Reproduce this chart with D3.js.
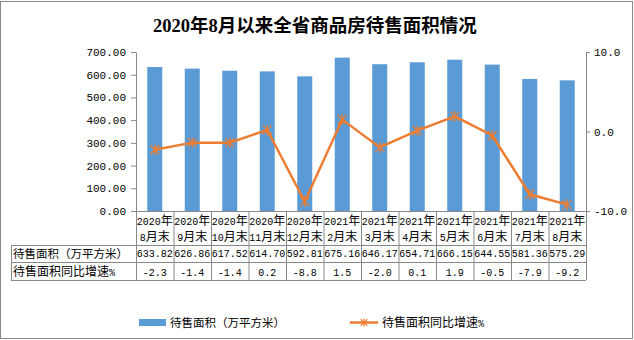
<!DOCTYPE html>
<html><head><meta charset="utf-8">
<script src="https://cdn.jsdelivr.net/npm/d3@7"></script>
<style>body{margin:0;background:#fff}</style></head>
<body><svg id="c" width="634" height="340"></svg>
<script>
const title = "2020年8月以来全省商品房待售面积情况";
const years = ["2020年","2020年","2020年","2020年","2020年","2021年","2021年","2021年","2021年","2021年","2021年","2021年"];
const months = ["8月末","9月末","10月末","11月末","12月末","2月末","3月末","4月末","5月末","6月末","7月末","8月末"];
const area = [633.82,626.86,617.52,614.70,592.81,675.16,646.17,654.71,666.15,644.55,581.36,575.29];
const growth = [-2.3,-1.4,-1.4,0.2,-8.8,1.5,-2.0,0.1,1.9,-0.5,-7.9,-9.2];
const leftTicks = [0,100,200,300,400,500,600,700];
const rightTicks = [-10,0,10];
const seriesNames = ["待售面积（万平方米）","待售面积同比增速%"];

const barColor = "#5B9BD5", lineColor = "#ED7D31", gridColor = "#898989";
const svg = d3.select("#c");
svg.append("rect").attr("x",0.5).attr("y",1.5).attr("width",632).attr("height",337)
  .attr("fill","#fff").attr("stroke",gridColor);

const MONO = "Liberation Mono", CJK = "Noto Sans CJK SC";
function rich(sel, str, asciiSize, cjkSize){
  const runs = str.match(/[\x00-\x7F]+|[^\x00-\x7F]+/g) || [];
  runs.forEach(r=>{
    const ascii = /^[\x00-\x7F]+$/.test(r);
    sel.append("tspan").attr("font-family", ascii?MONO:CJK)
      .attr("font-size", ascii?asciiSize:cjkSize).text(r);
  });
}

svg.append("text").attr("x",315).attr("y",32).attr("text-anchor","middle")
  .attr("font-family","Liberation Serif, Noto Sans CJK SC").attr("font-weight","bold")
  .attr("font-size",18.5).attr("fill","#000").text(title);

const X0=136, X1=586, Y0=211, Y1=52;
const idx = d3.range(area.length);
const x = d3.scaleBand().domain(idx).range([X0,X1]);
const xb = d3.scaleLinear().domain([0,area.length]).range([X0,X1]);
const yL = d3.scaleLinear().domain([0,700]).range([Y0,Y1]);
const yR = d3.scaleLinear().domain([-10,10]).range([Y0,Y1]);
const bw = x.bandwidth()*0.4;

// bars
svg.append("g").selectAll("rect").data(idx).join("rect")
  .attr("x",i=>x(i)+x.bandwidth()/2-bw/2).attr("width",bw)
  .attr("y",i=>yL(area[i])).attr("height",i=>Y0-yL(area[i])).attr("fill",barColor);

// axes
function styleAxis(g){
  g.selectAll("path,line").attr("stroke",gridColor);
  g.selectAll("text").attr("font-family",MONO).attr("font-size",11).attr("fill","#000");
}
svg.append("g").attr("transform",`translate(${X0},0)`)
  .call(d3.axisLeft(yL).tickValues(leftTicks).tickFormat(d=>d.toFixed(2)).tickSize(5).tickSizeOuter(0).tickPadding(5))
  .call(styleAxis);
svg.append("g").attr("transform",`translate(${X1},0)`)
  .call(d3.axisRight(yR).tickValues(rightTicks).tickFormat(d=>d.toFixed(1)).tickSize(4).tickSizeOuter(0).tickPadding(4))
  .call(styleAxis);
svg.append("g").attr("transform",`translate(0,${Y0})`)
  .call(d3.axisBottom(xb).tickValues(d3.range(area.length+1)).tickFormat("").tickSize(69).tickSizeOuter(0))
  .call(styleAxis);

// table lines
const T = svg.append("g").attr("stroke",gridColor).attr("shape-rendering","crispEdges");
[245,262,280].forEach(yy=>T.append("line").attr("x1",11).attr("x2",X1).attr("y1",yy+0.5).attr("y2",yy+0.5));
T.append("line").attr("x1",11.5).attr("x2",11.5).attr("y1",245).attr("y2",280.5);

// category labels
idx.forEach(i=>{
  const cx = x(i)+x.bandwidth()/2;
  rich(svg.append("text").attr("x",cx).attr("y",225).attr("text-anchor","middle").attr("fill","#000"), years[i], 10, 12);
  rich(svg.append("text").attr("x",cx).attr("y",241).attr("text-anchor","middle").attr("fill","#000"), months[i], 10, 12);
  svg.append("text").attr("x",cx).attr("y",257).attr("text-anchor","middle")
    .attr("font-family",MONO).attr("font-size",10).attr("fill","#000").text(area[i].toFixed(2));
  svg.append("text").attr("x",cx).attr("y",275.5).attr("text-anchor","middle")
    .attr("font-family",MONO).attr("font-size",10).attr("fill","#000").text(growth[i].toFixed(1));
});
rich(svg.append("text").attr("x",13).attr("y",257.5).attr("fill","#000"), seriesNames[0], 10, 11.5);
rich(svg.append("text").attr("x",13).attr("y",276).attr("fill","#000"), seriesNames[1], 10, 12);

// line
const star = "M-4.5,-4.5L4.5,4.5M-4.5,4.5L4.5,-4.5M0,-5.5L0,5.5";
svg.append("path").datum(idx)
  .attr("d",d3.line().x(i=>x(i)+x.bandwidth()/2).y(i=>yR(growth[i])))
  .attr("fill","none").attr("stroke",lineColor).attr("stroke-width",2.5);
svg.append("g").selectAll("path").data(idx).join("path")
  .attr("transform",i=>`translate(${x(i)+x.bandwidth()/2},${yR(growth[i])})`)
  .attr("d",star).attr("stroke",lineColor).attr("stroke-width",1.3).attr("fill","none");

// legend
svg.append("rect").attr("x",139).attr("y",319).attr("width",27).attr("height",7).attr("fill",barColor);
rich(svg.append("text").attr("x",170).attr("y",327).attr("fill","#000"), seriesNames[0], 10, 11.5);
svg.append("line").attr("x1",350).attr("x2",378).attr("y1",322.5).attr("y2",322.5).attr("stroke",lineColor).attr("stroke-width",2.5);
svg.append("path").attr("transform","translate(364,322.5) scale(0.75)").attr("d",star).attr("stroke",lineColor).attr("stroke-width",1.5).attr("fill","none");
rich(svg.append("text").attr("x",382).attr("y",327).attr("fill","#000"), seriesNames[1], 10, 12);
</script></body></html>
